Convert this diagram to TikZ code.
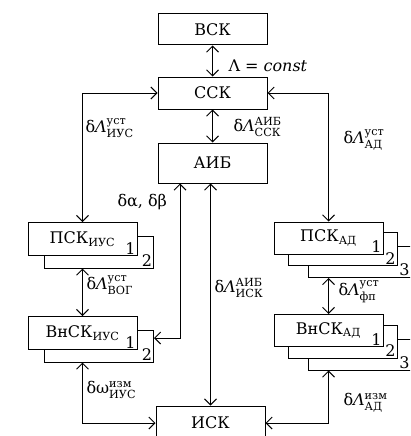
\documentclass[tikz,border=0pt]{standalone}
\usepackage{amsmath}
\usepackage{fontspec}
\setmainfont{DejaVu Serif}
\usetikzlibrary{arrows.meta}
\newcommand{\dlab}[3]{#1$^{\text{#2}}_{\text{#3}}$}
\begin{document}
\begin{tikzpicture}[x=1pt, y=-1pt, line width=1pt,
    >={Straight Barb[length=6pt,width=12pt]},
    box/.style={draw, fill=white, minimum width=109pt, minimum height=32pt, inner sep=0pt},
    num/.style={anchor=south east, inner sep=1.5pt},
    lab/.style={anchor=west, inner sep=0pt},
    font=\fontsize{16}{19}\selectfont]

    \useasboundingbox (0,0) rectangle (410,436);
    \clip (0,0) rectangle (410,436);

    % Системы координат
    \node[box, minimum height=31pt] (vsk) at (212.5,29.5) {ВСК};
    \node[box] (ssk) at (212.5,93) {ССК};
    \node[box, minimum height=40pt] (aib) at (212.5,163) {АИБ};
    \node[box, minimum height=34pt] (isk) at (210.5,423) {ИСК};

    % Левые стопки (ИУС)
    \foreach \nm/\y/\txt in {pskI/239/ПСК, vnskI/333/ВнСК} {
        \node[box] (\nm b) at ({99},{\y+13}) {};
        \node[num] (\nm n2) at (\nm b.south east) {2};
        \node[box, minimum height=33pt] (\nm) at (82.5,\y) {\txt$_{\text{ИУС}}$\hspace{6pt}};
        \node[num] (\nm n1) at (\nm.south east) {1};
    }

    % Правые стопки (АД)
    \foreach \nm/\y/\txt in {pskA/238/ПСК, vnskA/330.5/ВнСК} {
        \node[box, minimum width=103pt, minimum height=31pt] (\nm 3) at ({359.5},{\y+24}) {};
        \node[num] (\nm n3) at (\nm 3.south east) {3};
        \node[box, minimum height=33pt] (\nm 2) at ({342.5},{\y+11}) {};
        \node[num] (\nm n2) at (\nm 2.south east) {2};
        \node[box] (\nm) at (328.5,\y) {\txt$_{\text{АД}}$\hspace{6pt}};
        \node[num] (\nm n1) at (\nm.south east) {1};
    }

    % Связи
    \coordinate (ab) at (180,338);
    \draw[<->] (vsk) -- (ssk);
    \draw[<->] (ssk) -- (aib);
    \draw[<->] (ssk.west) -| (pskI.north);
    \draw[<->] (ssk.east) -| (pskA.north);
    \draw[<->] (pskIb.south -| pskI.south) -- (vnskI.north);
    \draw[<->] (aib.south -| ab) -- (ab) -- (ab -| vnskIb.east);
    \draw[<->] (aib.south -| isk.north) -- (isk.north);
    \draw[<->] (vnskIb.south -| vnskI.south) |- (isk.west);
    \draw[<->] (pskA3.south -| pskA.south) -- (vnskA.north);
    \draw[<->] (vnskA3.south -| vnskA.south) |- (isk.east);

    % Подписи
    \node[lab] (lc) at (228,66) {Λ = \textit{const}};
    \node[lab] (l1) at (233,127) {\dlab{δ\textit{Λ}}{АИБ}{ССК}};
    \node[lab] (l2) at (85,128) {\dlab{δ\textit{Λ}}{уст}{ИУС}};
    \node[lab] (l3) at (343,140) {\dlab{δ\textit{Λ}}{уст}{АД}};
    \node[lab] (l4) at (117,202) {δα, δβ};
    \node[lab] (l5) at (214,288) {\dlab{δ\textit{Λ}}{АИБ}{ИСК}};
    \node[lab] (l6) at (86,285) {\dlab{δ\textit{Λ}}{уст}{ВОГ}};
    \node[lab] (l7) at (338,292) {\dlab{δ\textit{Λ}}{уст}{фп}};
    \node[lab] (l8) at (86,390) {\dlab{δω}{изм}{ИУС}};
    \node[lab] (l9) at (343,403) {\dlab{δ\textit{Λ}}{изм}{АД}};
\end{tikzpicture}
\end{document}
